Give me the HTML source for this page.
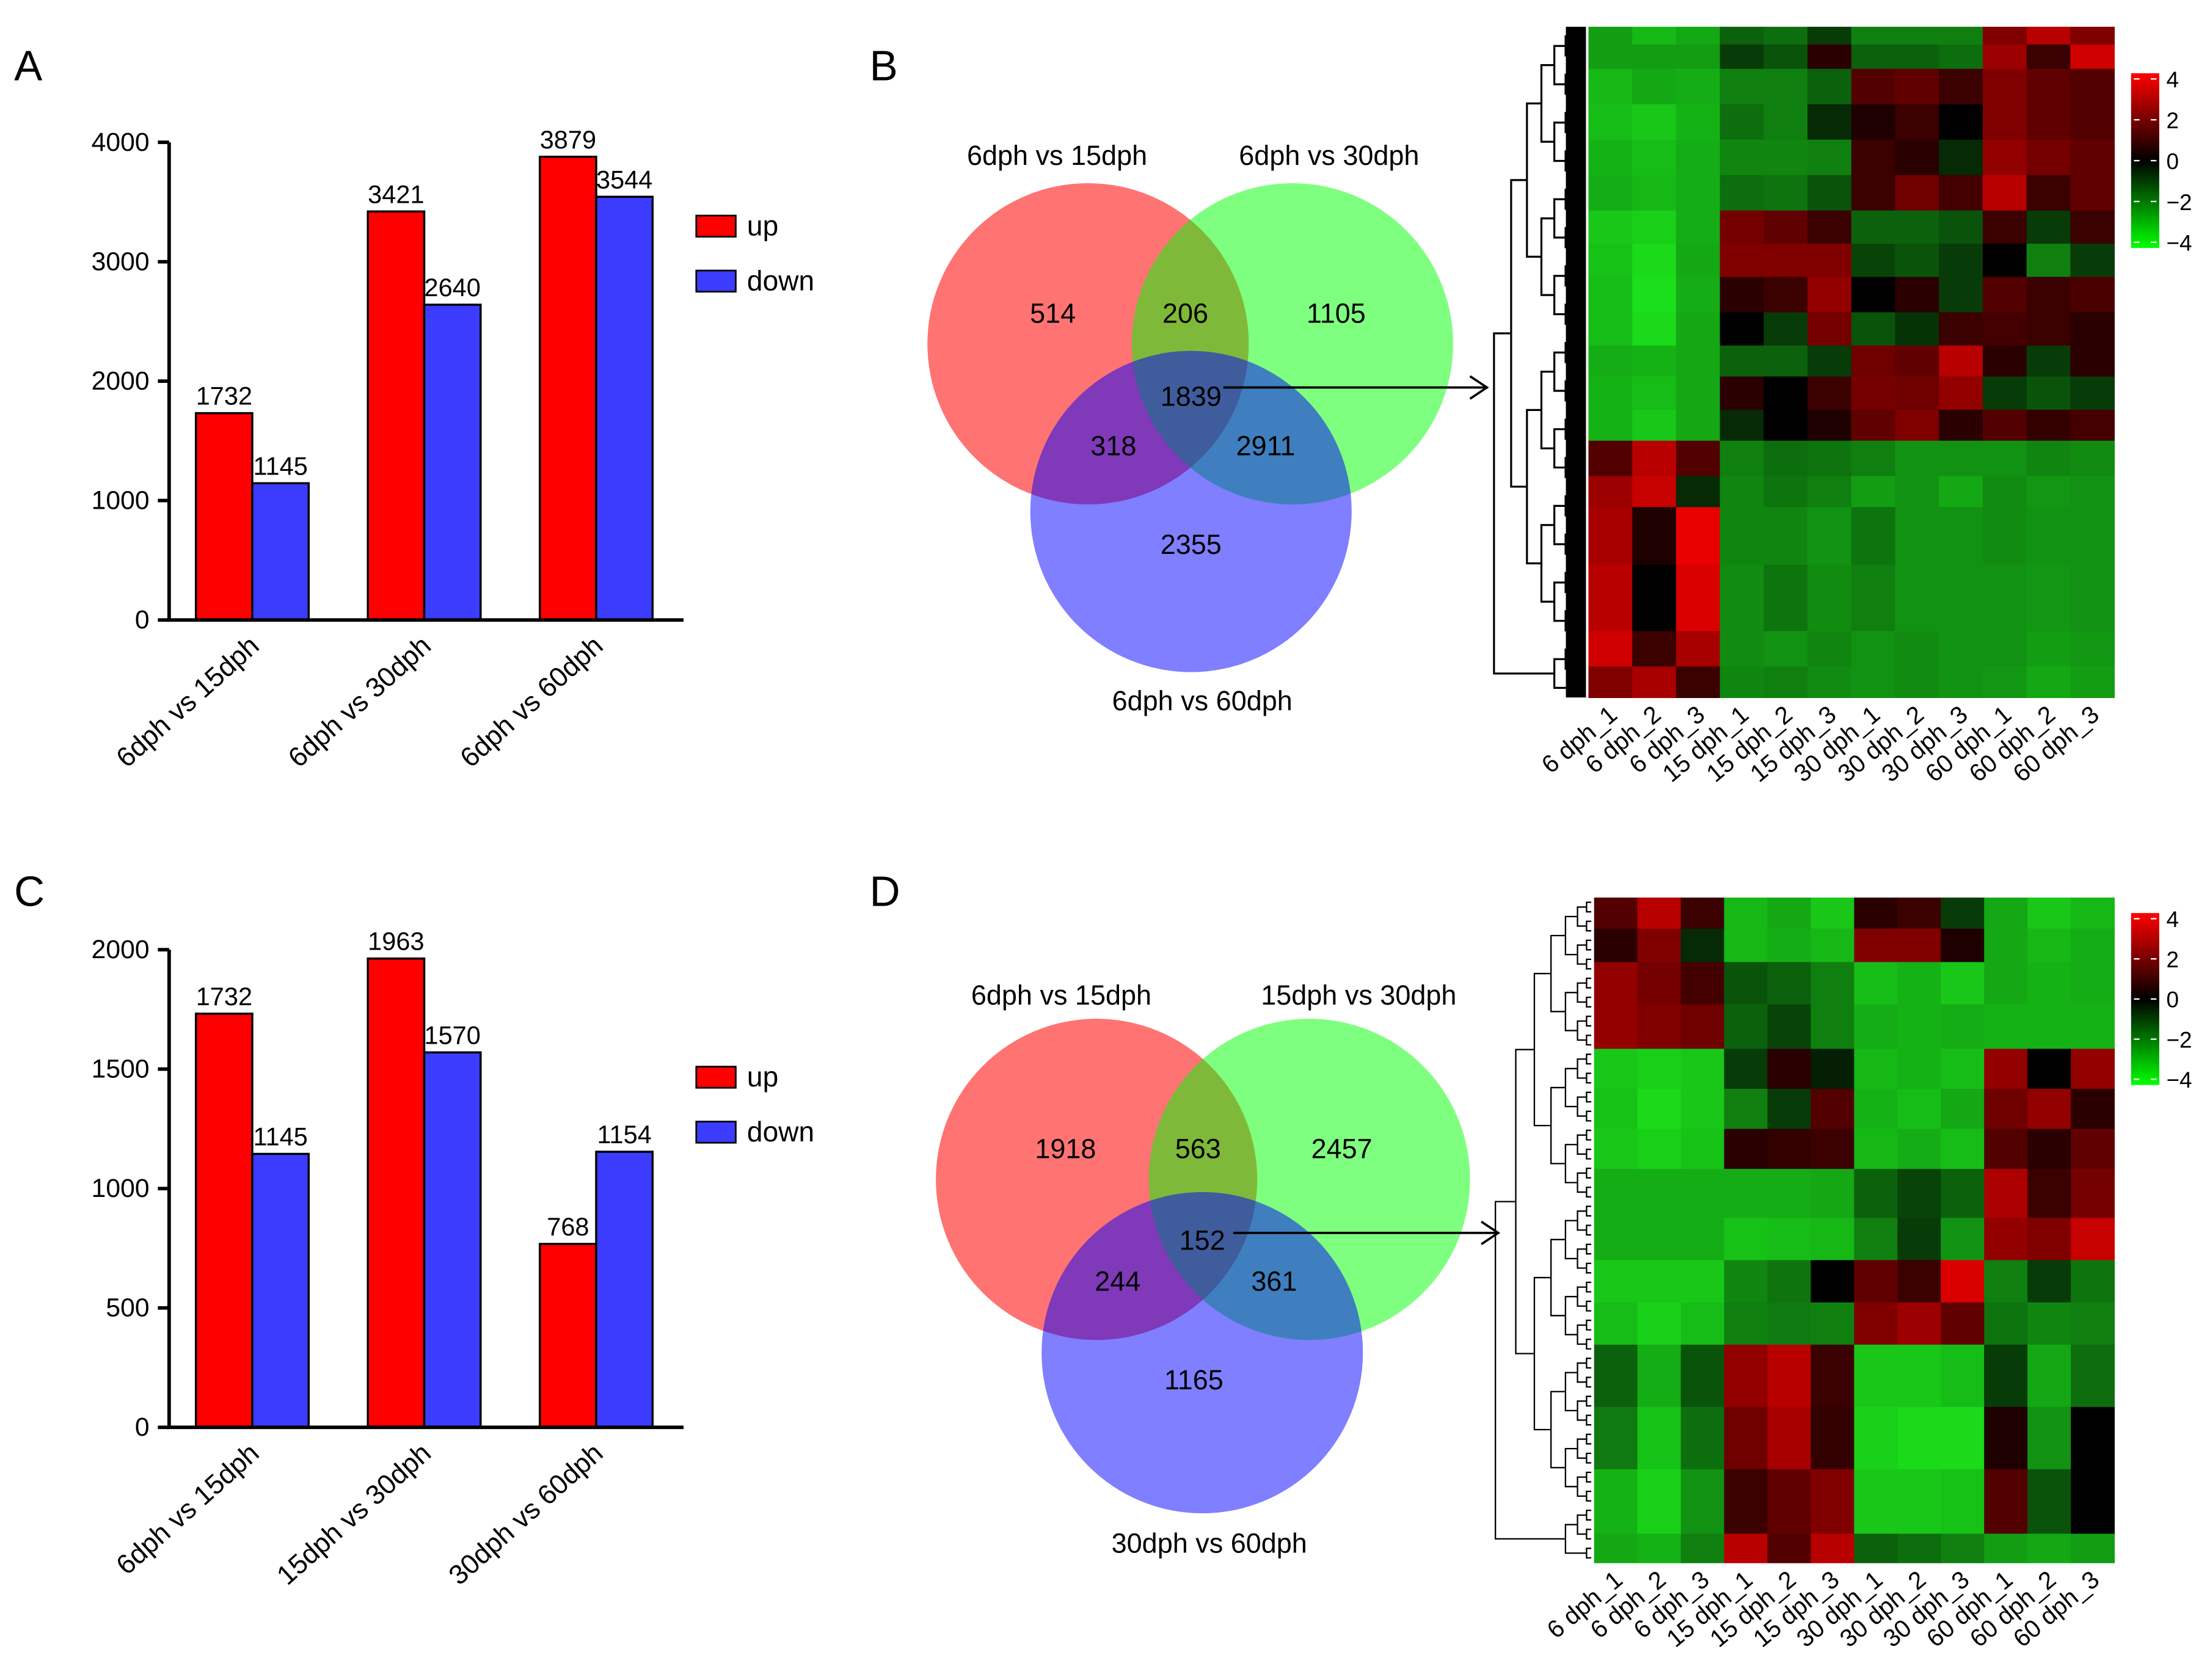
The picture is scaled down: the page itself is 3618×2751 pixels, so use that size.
<!DOCTYPE html>
<html><head><meta charset="utf-8"><style>
html,body{margin:0;padding:0;background:#fff}
svg{display:block;font-family:"Liberation Sans",Arial,sans-serif}
</style></head><body>
<svg id="fig" xmlns="http://www.w3.org/2000/svg" width="3618" height="2751" viewBox="0 0 1568 1192.3" preserveAspectRatio="none">
<rect width="1568" height="1193" fill="#fff"/>
<g id="root"></g>
</svg>
<script>
// ---------- DATA ----------
const catsA = ["6dph vs 15dph","6dph vs 30dph","6dph vs 60dph"];
const upA = [1732,3421,3879];
const downA = [1145,2640,3544];
const ticksA = [0,1000,2000,3000,4000];
const catsC = ["6dph vs 15dph","15dph vs 30dph","30dph vs 60dph"];
const upC = [1732,1963,768];
const downC = [1145,1570,1154];
const ticksC = [0,500,1000,1500,2000];
const vennBSets = ["6dph vs 15dph","6dph vs 30dph","6dph vs 60dph"];
const vennBCounts = [514,206,1105,1839,318,2911,2355];
const vennDSets = ["6dph vs 15dph","15dph vs 30dph","30dph vs 60dph"];
const vennDCounts = [1918,563,2457,152,244,361,1165];
const samples = ["6 dph_1","6 dph_2","6 dph_3","15 dph_1","15 dph_2","15 dph_3","30 dph_1","30 dph_2","30 dph_3","60 dph_1","60 dph_2","60 dph_3"];
const colorTicks = [4,2,0,-2,-4];
const hmBWeights = [40,55,80,80,80,80,75,75,80,75,70,75,70,80,70,130,150,80,70];
const hmBRows = [
[-2,-2.5,-2.2,-1,-1.2,-0.5,-1.5,-1.5,-1.5,1.5,2.5,1.5],
[-2,-2,-2,-0.5,-0.8,0.3,-1,-1,-1.2,2,0.5,3],
[-2.5,-2.2,-2.3,-1.5,-1.5,-1,0.8,1,0.5,1.5,1,0.8],
[-2.6,-2.8,-2.4,-1.2,-1.5,-0.3,0.2,0.5,0,1.5,1,0.8],
[-2.4,-2.6,-2.3,-1.6,-1.6,-1.5,0.5,0.3,-0.3,1.8,1.3,1],
[-2.3,-2.5,-2.3,-1.2,-1.3,-0.8,0.5,1.2,0.6,2.5,0.5,1],
[-2.8,-3,-2.3,1.3,1,0.5,-1,-1,-0.8,0.5,-0.5,0.5],
[-2.7,-3.2,-2.2,1.5,1.5,1.5,-0.6,-0.8,-0.5,0,-1.5,-0.5],
[-2.6,-3.3,-2.3,0.3,0.5,1.8,0,0.3,-0.5,0.8,0.5,0.7],
[-2.6,-3.2,-2.2,0,-0.5,1.3,-0.8,-0.4,0.5,0.6,0.5,0.3],
[-2.3,-2.4,-2.2,-1,-1,-0.5,1.2,1,2.5,0.3,-0.5,0.3],
[-2.4,-2.6,-2.2,0.3,0,0.5,1.3,1.2,1.8,-0.5,-0.8,-0.5],
[-2.4,-2.8,-2.2,-0.3,0,0.2,1,1.5,0.3,0.8,0.4,0.6],
[0.8,2.5,0.8,-1.5,-1.2,-1.3,-1.5,-1.8,-1.8,-1.8,-1.6,-1.7],
[2,2.8,-0.3,-1.6,-1.3,-1.5,-2,-1.8,-2.2,-1.7,-1.9,-1.8],
[2.2,0.2,3.5,-1.6,-1.6,-1.8,-1.3,-1.8,-1.8,-1.7,-1.8,-1.8],
[2.5,0,3.2,-1.7,-1.3,-1.7,-1.5,-1.8,-1.8,-1.8,-1.9,-1.8],
[3,0.5,2.2,-1.7,-1.8,-1.6,-1.8,-1.7,-1.8,-1.8,-2,-1.9],
[1.5,2.2,0.5,-1.6,-1.5,-1.7,-1.8,-1.7,-1.8,-1.9,-2.2,-2]
];
const hmDWeights = [70,75,95,100,90,90,90,110,95,95,95,140,140,145,65];
const hmDRows = [
[0.8,2.5,0.5,-2.5,-2.2,-2.8,0.3,0.5,-0.5,-2.2,-2.8,-2.5],
[0.3,1.5,-0.3,-2.5,-2.3,-2.5,1.5,1.5,0.2,-2.2,-2.5,-2.3],
[1.8,1.3,0.6,-0.8,-1,-1.5,-2.6,-2.4,-2.8,-2.2,-2.4,-2.3],
[1.8,1.5,1.2,-1,-0.6,-1.5,-2.3,-2.4,-2.3,-2.4,-2.4,-2.4],
[-2.8,-3,-2.8,-0.5,0.3,-0.2,-2.5,-2.4,-2.6,1.8,0,1.8],
[-2.7,-3.2,-2.8,-1.5,-0.5,0.8,-2.4,-2.6,-2.2,1.2,1.8,0.3],
[-2.8,-3,-2.7,0.3,0.4,0.5,-2.5,-2.3,-2.6,0.8,0.3,1],
[-2.3,-2.3,-2.3,-2.3,-2.3,-2.2,-1,-0.6,-1,2.3,0.5,1.3],
[-2.3,-2.3,-2.3,-2.7,-2.6,-2.5,-1.5,-0.5,-1.8,1.8,1.5,2.8],
[-2.8,-2.8,-2.8,-1.6,-1.3,0,1,0.5,3.2,-1.5,-0.5,-1.3],
[-2.6,-3,-2.6,-1.5,-1.4,-1.5,1.5,2,1,-1.3,-1.6,-1.5],
[-1,-2.3,-0.8,1.8,2.5,0.5,-2.8,-2.8,-2.6,-0.5,-2.2,-1.2],
[-1.4,-2.7,-1.2,1.2,2.2,0.4,-3,-3.2,-3.2,0.2,-1.8,0],
[-2.4,-3,-1.8,0.5,1,1.5,-2.8,-2.8,-2.7,0.8,-0.8,0],
[-2.2,-2.4,-1.5,2.5,0.8,2.5,-1,-1.2,-1.5,-2,-2.2,-2]
];

// ---------- HELPERS ----------
const NS="http://www.w3.org/2000/svg";
const root=document.getElementById('root');
function mk(tag,attrs,parent,text){const e=document.createElementNS(NS,tag);for(const k in attrs)e.setAttribute(k,attrs[k]);if(text!==undefined)e.textContent=text;(parent||root).appendChild(e);return e;}
function grp(name){const g=mk('g',{});


return g;}

[["A",10,57],["B",617,57],["C",10,643],["D",617,643]].forEach(p=>{
 const t=mk('text',{x:p[1],y:p[2],'font-size':30,fill:'#000'},root,p[0]);
 
 
});

// ---------- BAR CHART ----------
function barChart(id,cats,up,down,ticks,maxV,y0,yTop,legY){
 const g=grp(id);
 const x0=120,x1=485;
 const ys=v=>y0-(v/maxV)*(y0-yTop);
 const gw=122, bw=40, first=179;
 cats.forEach((c,i)=>{
  const cx=first+i*gw;
  const r=mk('rect',{x:cx-bw,y:ys(up[i]),width:bw,height:y0-ys(up[i]),fill:'#ff0000',stroke:'#000','stroke-width':1.5},g);
  
  
  const b=mk('rect',{x:cx,y:ys(down[i]),width:bw,height:y0-ys(down[i]),fill:'#3c3cff',stroke:'#000','stroke-width':1.5},g);
  
  
  const t1=mk('text',{x:cx-bw/2,y:ys(up[i])-6,'font-size':18,'text-anchor':'middle'},g,String(up[i]));
  
  
  const t2=mk('text',{x:cx+bw/2,y:ys(down[i])-6,'font-size':18,'text-anchor':'middle'},g,String(down[i]));
  
  
  const cl=mk('text',{x:cx+6,y:y0+20,'font-size':19.5,'text-anchor':'end',transform:`rotate(-42 ${cx+6} ${y0+20})`},g,c);
  
  
 });
 const ax=mk('path',{d:`M${x0} ${yTop} V${y0} H${x1}`,fill:'none',stroke:'#000','stroke-width':2.5},g);
 
 
 ticks.forEach(v=>{
  mk('line',{x1:x0-8,x2:x0,y1:ys(v),y2:ys(v),stroke:'#000','stroke-width':2.5},g);
  const tl=mk('text',{x:x0-14,y:ys(v)+6,'font-size':18.5,'text-anchor':'end'},g,String(v));
  
  
 });
 [['up','#ff0000',legY],['down','#3c3cff',legY+39]].forEach(l=>{
  const lr=mk('rect',{x:494,y:l[2]-7,width:28,height:15,fill:l[1],stroke:'#000','stroke-width':1.2},g);
  
  
  const lt=mk('text',{x:530,y:l[2]+7,'font-size':20},g,l[0]);
  
  
 });
}
barChart('bar-chart-a',catsA,upA,downA,ticksA,4000,440,101,160);
barChart('bar-chart-c',catsC,upC,downC,ticksC,2000,1013,674,764);

// ---------- VENN ----------
function venn(id,sets,counts,cR,cG,cB,r,labPos,numPos,arrow){
 const g=grp(id);
 [[cR,'#ff0000',0.55],[cG,'#00ff00',0.5],[cB,'#0000ff',0.5]].forEach((c,i)=>{
  const ci=mk('circle',{cx:c[0][0],cy:c[0][1],r:r,fill:c[1],'fill-opacity':c[2]},g);
  
  
 });
 sets.forEach((s,i)=>{
  const t=mk('text',{x:labPos[i][0],y:labPos[i][1],'font-size':19.5,'text-anchor':'middle'},g,s);
  
  
 });
 counts.forEach((n,i)=>{
  const t=mk('text',{x:numPos[i][0],y:numPos[i][1]+7,'font-size':19.5,'text-anchor':'middle'},g,String(n));
  
  
 });
 const a=mk('path',{d:`M${arrow[0]} ${arrow[1]} H${arrow[2]} M${arrow[2]-12} ${arrow[1]-8} L${arrow[2]} ${arrow[1]} L${arrow[2]-12} ${arrow[1]+8}`,fill:'none',stroke:'#000','stroke-width':1.6},g);
 
 
}
venn('venn-b',vennBSets,vennBCounts,[772,244],[917,244],[845,363],114,
 [[750,117],[943,117],[853,504]],
 [[747,222],[841,222],[948,222],[845,281],[790,316],[898,316],[845,386]],[868,275,1055]);
venn('venn-d',vennDSets,vennDCounts,[778,837],[929,837],[853,960],114,
 [[753,713],[964,713],[858,1102]],
 [[756,815],[850,815],[952,815],[853,880],[793,909],[904,909],[847,979]],[875,875,1063]);

// ---------- HEATMAP ----------
function col(v){v=Math.max(-4,Math.min(4,v));
 const c=Math.round(Math.pow(Math.abs(v)/4,0.7)*255);
 if(v>=0)return `rgb(${c},0,0)`;return `rgb(${Math.round(c*0.12)},${c},${Math.round(c*0.12)})`;}
function heatmap(id,rows,weights,x0,x1,y0,y1,dx,dense,cb,cby0,cby1){
 const g=grp(id);
 const tot=weights.reduce((a,b)=>a+b,0);
 const cw=(x1-x0)/12;
 let acc=0;
 rows.forEach((row,ri)=>{
  const ya=y0+acc/tot*(y1-y0);acc+=weights[ri];
  const yb=y0+acc/tot*(y1-y0);
  row.forEach((v,ci)=>{
   const c=mk('rect',{x:x0+ci*cw,y:ya,width:cw+0.4,height:yb-ya+0.4,fill:col(v)},g);
   
   
  });
 });
 const dg=grp(id+'-dendrogram');g.appendChild(dg);
 const leafN=dense?140:70;
 const leaves=[];for(let i=0;i<leafN;i++)leaves.push(y0+(i+0.5)*(y1-y0)/leafN);
 let nodes=leaves.map(y=>({y:y,x:x0-2}));
 let level=0;
 let d='';
 while(nodes.length>1){
  level++;
  const nx=[];
  for(let i=0;i<nodes.length;i+=2){
   if(i+1>=nodes.length){nx.push(nodes[i]);continue;}
   const a=nodes[i],b=nodes[i+1];
   const hx=x0-2-Math.pow(level,1.55)*(x0-dx)/Math.pow(Math.ceil(Math.log2(leafN)),1.55);
   d+=`M${a.x} ${a.y}H${hx}V${b.y}H${b.x}`;
   nx.push({y:(a.y+b.y)/2,x:hx});
  }
  nodes=nx;
 }
 const dp=mk('path',{d:d,fill:'none',stroke:'#000','stroke-width':dense?1.4:1},dg);
 
 
 if(dense){const bl=mk('rect',{x:x0-16,y:y0,width:15,height:y1-y0,fill:'#000'},dg);
  
  }
 mk('line',{x1:x0-1,x2:x0-1,y1:y0,y2:y1,stroke:'#fff','stroke-width':1.5},g);
 samples.forEach((s,i)=>{
  const cx=x0+(i+0.5)*cw+6, cy=y1+14;
  const t=mk('text',{x:cx,y:cy,'font-size':17.5,'text-anchor':'end',transform:`rotate(-40 ${cx} ${cy})`},g,s);
  
  
 });
 const gid=id+'-grad';
 const defs=mk('defs',{},g);
 const lg=mk('linearGradient',{id:gid,x1:0,y1:0,x2:0,y2:1},defs);
 mk('stop',{offset:'0','stop-color':'#ff0000'},lg);
 mk('stop',{offset:'0.5','stop-color':'#000'},lg);
 mk('stop',{offset:'1','stop-color':'#00ff00'},lg);
 const cbr=mk('rect',{x:cb,y:cby0,width:20,height:cby1-cby0,fill:`url(#${gid})`},g);
 
 
 colorTicks.forEach((v,i)=>{
  const yy=cby0+4+(4-v)/8*(cby1-cby0-8);
  mk('line',{x1:cb+2,x2:cb+6,y1:yy,y2:yy,stroke:'#fff','stroke-width':1},g);
  mk('line',{x1:cb+14,x2:cb+18,y1:yy,y2:yy,stroke:'#fff','stroke-width':1},g);
  const t=mk('text',{x:cb+25,y:yy+6,'font-size':16},g,(v<0?'\u2212'+(-v):String(v)));
  
  
 });
}
heatmap('heatmap-b',hmBRows,hmBWeights,1127,1500,19,495,1062,true,1512,52,176);
heatmap('heatmap-d',hmDRows,hmDWeights,1131,1500,637,1109,1063,false,1512,648,770);
</script>
</body></html>
